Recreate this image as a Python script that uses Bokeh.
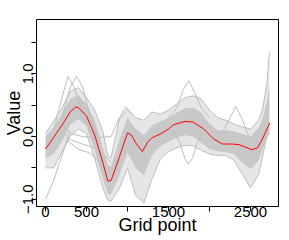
from bokeh.plotting import figure
from bokeh.models import FixedTicker, Range1d
from bokeh.embed import file_html
from bokeh.resources import INLINE

# ---------------- data ----------------
grid_x = [0, 100, 200, 300, 400, 500, 600, 700, 760, 800, 900, 1000, 1100, 1200,
          1300, 1400, 1500, 1600, 1700, 1800, 1900, 2000, 2100, 2200, 2300, 2400,
          2500, 2600, 2650, 2700, 2730]
# full spread of the curves
upper_outer = [0.05, 0.25, 0.45, 0.72, 0.78, 0.62, 0.42, 0.08, -0.32, -0.33, 0.28, 0.44,
               0.30, 0.26, 0.39, 0.36, 0.42, 0.52, 0.62, 0.65, 0.60, 0.42, 0.30, 0.26,
               0.20, 0.15, 0.12, 0.26, 0.45, 0.85, 1.34]
lower_outer = [-0.50, -0.50, -0.25, 0.00, 0.12, 0.05, -0.35, -0.82, -1.02, -1.03, -0.83,
               -0.50, -0.94, -1.06, -0.67, -0.36, -0.24, -0.18, -0.14, -0.15, -0.22,
               -0.28, -0.30, -0.30, -0.38, -0.60, -0.82, -0.60, -0.30, 0.00, 0.06]
# dense core of the curves
upper_core = [0.00, 0.15, 0.36, 0.60, 0.66, 0.52, 0.26, -0.18, -0.45, -0.48, -0.05, 0.30,
              0.12, 0.02, 0.18, 0.24, 0.30, 0.38, 0.45, 0.46, 0.38, 0.20, 0.10, 0.10,
              0.08, 0.04, 0.00, 0.14, 0.30, 0.55, 0.80]
lower_core = [-0.35, -0.28, -0.08, 0.18, 0.28, 0.16, -0.22, -0.68, -0.92, -0.92, -0.62,
              -0.26, -0.50, -0.62, -0.30, -0.16, -0.08, -0.02, 0.02, 0.00, -0.10, -0.20,
              -0.24, -0.25, -0.28, -0.42, -0.52, -0.38, -0.20, -0.02, 0.05]

# individual outlying curves
outlier_x = [
    [100, 200, 276, 350, 450, 550],
    [200, 300, 378, 450, 550, 650],
    [200, 300, 450, 600, 800, 900, 980, 1050],
    [200, 300, 450, 600, 700, 800],
    [250, 400, 550, 650, 720],
    [0, 100, 200, 300],
    [1500, 1600, 1680, 1748, 1820, 1900, 2000],
    [1550, 1640, 1700, 1740, 1790, 1850, 1920],
    [2150, 2250, 2320, 2390, 2480],
]
outlier_y = [
    [0.10, 0.62, 0.96, 0.78, 0.40, 0.05],
    [0.30, 0.78, 0.96, 0.80, 0.30, -0.10],
    [0.20, 0.05, 0.00, -0.02, 0.00, 0.30, 0.47, 0.35],
    [0.10, -0.05, -0.12, -0.18, -0.28, -0.42],
    [-0.05, -0.20, -0.27, -0.40, -0.60],
    [-1.00, -0.70, -0.30, 0.10],
    [0.30, 0.45, 0.75, 0.89, 0.70, 0.45, 0.30],
    [0.10, -0.10, -0.35, -0.44, -0.35, -0.10, 0.05],
    [0.05, 0.30, 0.48, 0.30, 0.00],
]

# mean curve (red)
mean_x = [0, 100, 200, 300, 370, 400, 500, 600, 700, 760, 800, 900, 1000, 1050, 1100,
          1180, 1250, 1300, 1400, 1500, 1565, 1700, 1800, 1930, 2050, 2160, 2280,
          2360, 2440, 2520, 2585, 2645, 2700, 2736]
mean_y = [-0.20, -0.01, 0.18, 0.39, 0.47, 0.46, 0.33, 0.02, -0.42, -0.71, -0.70, -0.33,
          0.06, 0.02, -0.10, -0.24, -0.08, -0.02, 0.04, 0.12, 0.19, 0.24, 0.23, 0.12,
          -0.04, -0.12, -0.12, -0.13, -0.17, -0.21, -0.18, -0.04, 0.12, 0.22]

x_ticks = [0, 500, 1000, 1500, 2000, 2500]
x_tick_labels = ["0", "500", "", "1500", "", "2500"]
y_ticks = [-1.0, -0.5, 0.0, 0.5, 1.0, 1.5]
y_tick_labels = ["\u22121.0", "", "0.0", "", "1.0", ""]

FONT = "Liberation Sans"

p = figure(width=289, height=240, output_backend="svg", toolbar_location=None,
           x_range=Range1d(-110, 2841), y_range=Range1d(-1.116, 1.866),
           min_border_left=36, min_border_right=11, min_border_top=19,
           min_border_bottom=34)
p.background_fill_color = "white"
p.border_fill_color = "white"
p.outline_line_color = "black"
p.outline_line_width = 1
p.grid.visible = False

p.varea(x=grid_x, y1=lower_outer, y2=upper_outer, fill_color="#E6E6E6")
p.varea(x=grid_x, y1=lower_core, y2=upper_core, fill_color="#C8C8C8")
p.line(grid_x, upper_outer, line_color="#BEBEBE", line_width=1)
p.line(grid_x, lower_outer, line_color="#BEBEBE", line_width=1)
p.multi_line(xs=outlier_x, ys=outlier_y, line_color="#BEBEBE", line_width=1)
p.line(mean_x, mean_y, line_color="#FF0000", line_width=1)

for ax in (p.xaxis[0], p.yaxis[0]):
    ax.axis_line_color = None
    ax.major_tick_line_color = "black"
    ax.major_tick_in = 0
    ax.major_tick_out = 5
    ax.minor_tick_line_color = None
    ax.major_label_text_font = FONT
    ax.major_label_text_font_size = "15px"
    ax.major_label_text_color = "black"
    ax.axis_label_text_font = FONT
    ax.axis_label_text_font_size = "18px"
    ax.axis_label_text_font_style = "normal"
    ax.axis_label_text_color = "black"

p.xaxis.ticker = FixedTicker(ticks=x_ticks)
p.xaxis.major_label_overrides = {t: l for t, l in zip(x_ticks, x_tick_labels)}
p.xaxis.major_label_standoff = -5
p.xaxis.axis_label = "Grid point"
p.xaxis.axis_label_standoff = -5

p.yaxis.ticker = FixedTicker(ticks=y_ticks)
p.yaxis.major_label_overrides = {t: l for t, l in zip(y_ticks, y_tick_labels)}
p.yaxis.major_label_orientation = "vertical"
p.yaxis.major_label_standoff = -2
p.yaxis.axis_label = "Value"
p.yaxis.axis_label_standoff = -3

open("out.html", "w").write(file_html(p, INLINE))
